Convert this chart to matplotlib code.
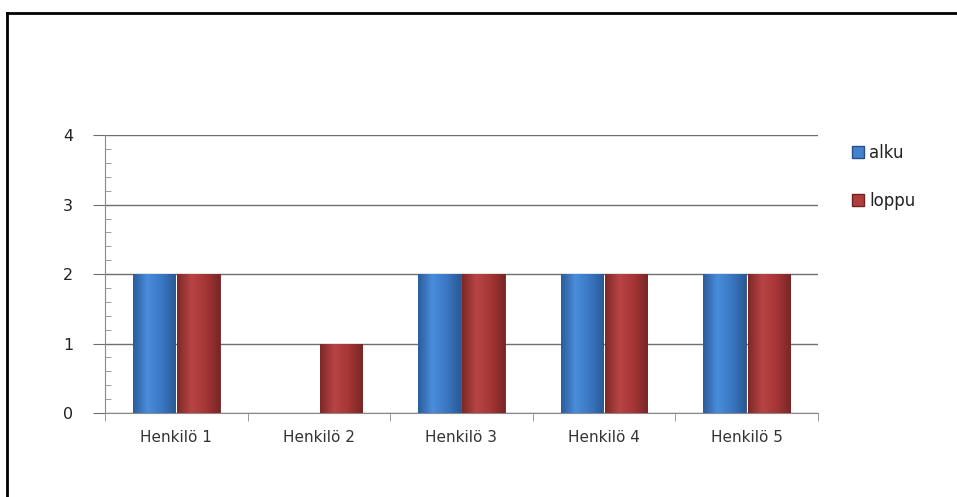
import matplotlib.pyplot as plt
import numpy as np
from matplotlib.colors import LinearSegmentedColormap
from matplotlib.lines import Line2D
from matplotlib.ticker import MultipleLocator

# Data
categories = ['Henkilö 1', 'Henkilö 2', 'Henkilö 3', 'Henkilö 4', 'Henkilö 5']
alku = [2, 0, 2, 2, 2]
loppu = [2, 1, 2, 2, 2]
series_names = ['alku', 'loppu']

blue_cmap = LinearSegmentedColormap.from_list('b', ['#2b5d9c', '#4a8ddb', '#3a78c4', '#2a5a96'])
red_cmap = LinearSegmentedColormap.from_list('r', ['#7e2828', '#b84444', '#a63636', '#7a2626'])

fig = plt.figure(figsize=(9.57, 4.97), dpi=100)
ax = fig.add_axes([0.1097, 0.169, 0.745, 0.559])

x = np.arange(len(categories))
w = 0.3
grad = np.linspace(0, 1, 64).reshape(1, -1)


def shaded_bars(offset, values, cmap, edge):
    bars = ax.bar(x + offset, values, w * 0.99, color=cmap(0.5), edgecolor=edge,
                  linewidth=0.6, zorder=3)
    for b in bars:
        h = b.get_height()
        if h <= 0:
            b.set_visible(False)
            continue
        x0 = b.get_x()
        im = ax.imshow(grad, cmap=cmap, aspect='auto', zorder=3.5,
                       extent=[x0, x0 + b.get_width(), 0, h], interpolation='bicubic')
        im.set_clip_path(b)
    return bars


b1 = shaded_bars(-w / 2 - 0.005, alku, blue_cmap, '#2a4f80')
b2 = shaded_bars(w / 2 + 0.005, loppu, red_cmap, '#6e2222')

ax.set_xlim(-0.5, len(categories) - 0.5)
ax.set_ylim(0, 4)
ax.set_aspect('auto')

ax.yaxis.set_major_locator(MultipleLocator(1))
ax.yaxis.set_minor_locator(MultipleLocator(0.2))
ax.grid(axis='y', color='#6e6e6e', linewidth=1, zorder=1)
ax.tick_params(axis='y', which='major', direction='out', length=9, color='#6e6e6e',
               labelsize=11.5, pad=14, labelcolor='#222222')
ax.tick_params(axis='y', which='minor', direction='in', length=4, color='#8a8a8a')

ax.set_xticks(x)
ax.set_xticklabels(categories, fontsize=11, color='#333333')
ax.set_xticks(np.arange(len(categories) + 1) - 0.5, minor=True)
ax.tick_params(axis='x', which='major', length=0, pad=12)
ax.tick_params(axis='x', which='minor', direction='out', length=6, color='#8a8a8a')

for s in ['top', 'right']:
    ax.spines[s].set_visible(False)
for s in ['left', 'bottom']:
    ax.spines[s].set_color('#8a8a8a')

handles = [plt.Rectangle((0, 0), 1, 1, facecolor=blue_cmap(0.5), edgecolor='#2a4f80'),
           plt.Rectangle((0, 0), 1, 1, facecolor=red_cmap(0.5), edgecolor='#6e2222')]
fig.legend(handles, series_names, loc='upper left', bbox_to_anchor=(0.875, 0.741),
           frameon=False, fontsize=12, handlelength=0.7, handleheight=0.7,
           handletextpad=0.3, labelspacing=1.8, labelcolor='#222222')

# outer frame
fig.add_artist(Line2D([0.0073, 1.0], [0.974, 0.974], color='black', linewidth=2,
                      transform=fig.transFigure))
fig.add_artist(Line2D([0.0073, 0.0073], [0.0, 0.974], color='black', linewidth=2,
                      transform=fig.transFigure))

fig.savefig('out.png', dpi=100)
